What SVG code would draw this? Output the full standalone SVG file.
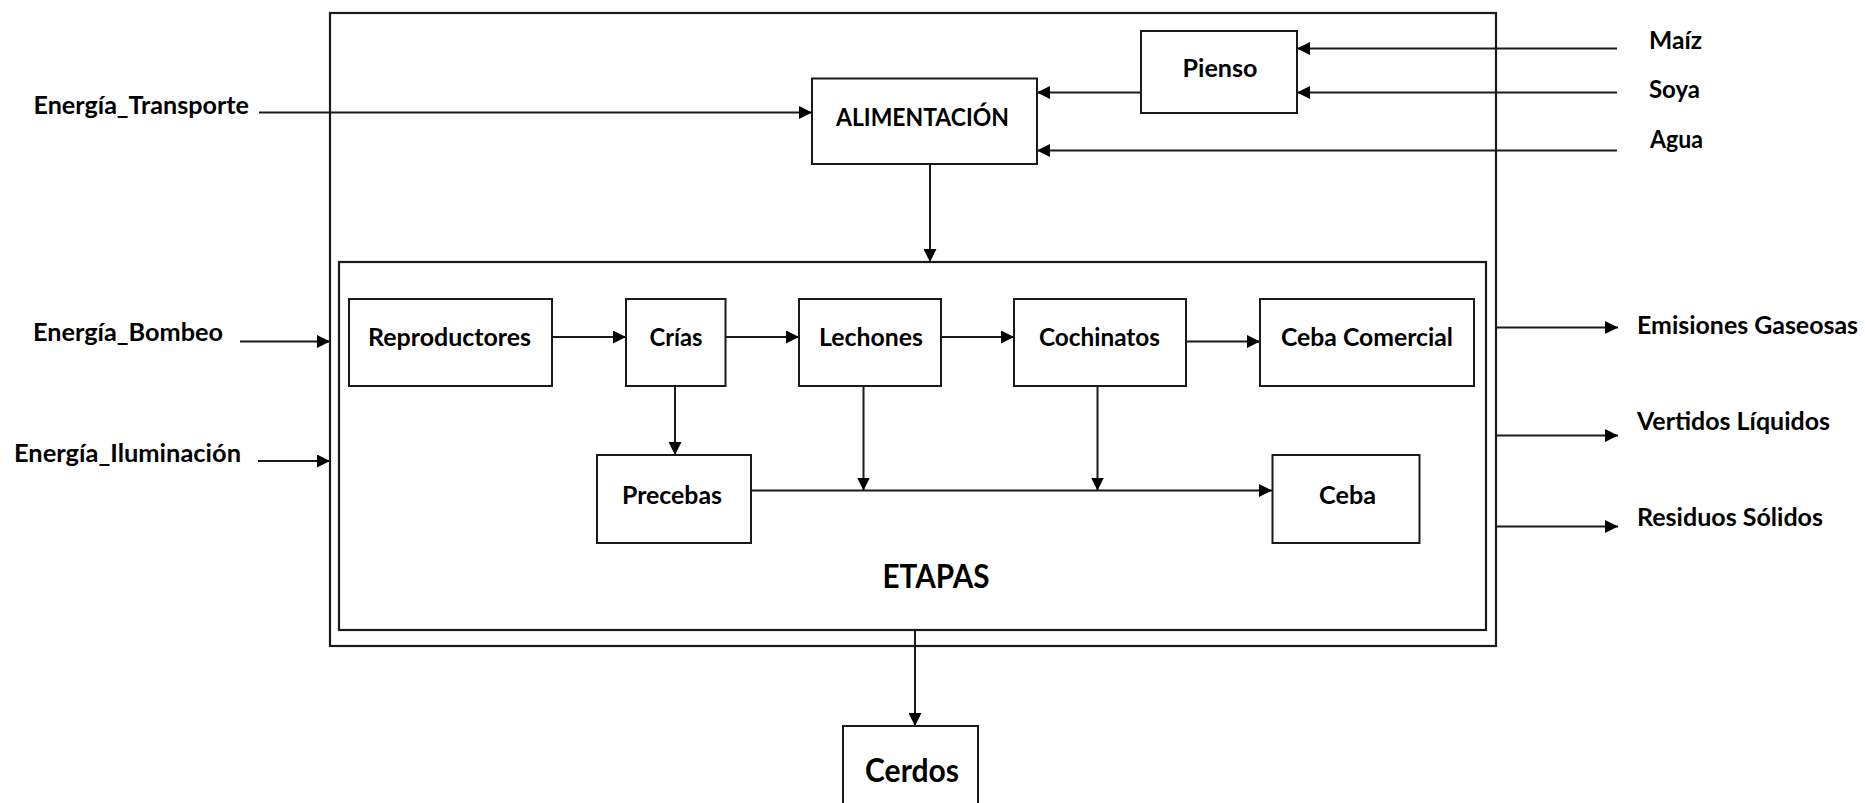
<svg xmlns="http://www.w3.org/2000/svg" width="1865" height="803" viewBox="0 0 1865 803">
  <style>
    .box { fill: #fff; stroke: #1a1a1a; stroke-width: 2; }
    .frame { fill: none; stroke: #1a1a1a; stroke-width: 2.2; }
    .lbl { font-family: Lato, "Liberation Sans", sans-serif; font-weight: bold; font-size: 24px; fill: #000; }
    .big { font-size: 32.5px; }
    .mid { text-anchor: middle; }
    .wire { fill: none; stroke: #1a1a1a; stroke-width: 2; marker-end: url(#arrow); }
  </style>
  <defs>
    <marker id="arrow" viewBox="0 0 13 13" refX="13" refY="6.5" markerWidth="13" markerHeight="13" markerUnits="userSpaceOnUse" orient="auto">
      <path d="M0,0 L13,6.5 L0,13 Z" fill="#000"/>
    </marker>
  </defs>
  <rect width="1865" height="803" fill="#fff"/>

  <!-- system boundary and stages container -->
  <g id="sistema">
    <rect class="frame" x="330" y="13" width="1166" height="633"/>
  </g>
  <g id="etapas">
    <rect class="frame" x="339" y="262" width="1147" height="368"/>
    <text class="lbl big mid" x="936" y="588" textLength="107" lengthAdjust="spacingAndGlyphs">ETAPAS</text>
  </g>

  <!-- connectors -->
  <g id="conectores">
    <line class="wire" x1="259" y1="112.5" x2="812" y2="112.5"/>
    <line class="wire" x1="1141" y1="92.5" x2="1037" y2="92.5"/>
    <line class="wire" x1="1617" y1="150.5" x2="1037" y2="150.5"/>
    <line class="wire" x1="1617" y1="48.5" x2="1297" y2="48.5"/>
    <line class="wire" x1="1617" y1="92.5" x2="1297" y2="92.5"/>
    <line class="wire" x1="930" y1="164" x2="930" y2="262"/>
    <line class="wire" x1="240" y1="341.5" x2="330" y2="341.5"/>
    <line class="wire" x1="258" y1="461" x2="330" y2="461"/>
    <line class="wire" x1="552" y1="337" x2="626" y2="337"/>
    <line class="wire" x1="725" y1="337" x2="799" y2="337"/>
    <line class="wire" x1="941" y1="337" x2="1014" y2="337"/>
    <line class="wire" x1="1186" y1="341.5" x2="1260" y2="341.5"/>
    <line class="wire" x1="675" y1="386" x2="675" y2="455"/>
    <line class="wire" x1="751" y1="490.5" x2="1272" y2="490.5"/>
    <line class="wire" x1="863.5" y1="386" x2="863.5" y2="490.5"/>
    <line class="wire" x1="1097.5" y1="386" x2="1097.5" y2="490.5"/>
    <line class="wire" x1="1496" y1="327.5" x2="1618" y2="327.5"/>
    <line class="wire" x1="1496" y1="435.5" x2="1618" y2="435.5"/>
    <line class="wire" x1="1496" y1="526.5" x2="1618" y2="526.5"/>
    <line class="wire" x1="915" y1="630" x2="915" y2="726"/>
  </g>

  <!-- process boxes -->
  <g id="pienso">
    <rect class="box" x="1141" y="31" width="156" height="82"/>
    <text class="lbl mid" x="1220" y="77" textLength="75" lengthAdjust="spacingAndGlyphs">Pienso</text>
  </g>
  <g id="alimentacion">
    <rect class="box" x="812" y="78.5" width="225" height="85.5"/>
    <text class="lbl mid" x="922.5" y="125.5" textLength="173" lengthAdjust="spacingAndGlyphs">ALIMENTACIÓN</text>
  </g>
  <g id="reproductores">
    <rect class="box" x="349" y="299" width="203" height="87"/>
    <text class="lbl mid" x="449.5" y="346" textLength="163" lengthAdjust="spacingAndGlyphs">Reproductores</text>
  </g>
  <g id="crias">
    <rect class="box" x="626" y="299" width="99.5" height="87"/>
    <text class="lbl mid" x="676" y="346" textLength="53" lengthAdjust="spacingAndGlyphs">Crías</text>
  </g>
  <g id="lechones">
    <rect class="box" x="799" y="299" width="142" height="87"/>
    <text class="lbl mid" x="871" y="346" textLength="104" lengthAdjust="spacingAndGlyphs">Lechones</text>
  </g>
  <g id="cochinatos">
    <rect class="box" x="1014" y="299" width="172" height="87"/>
    <text class="lbl mid" x="1099.5" y="346" textLength="121" lengthAdjust="spacingAndGlyphs">Cochinatos</text>
  </g>
  <g id="ceba-comercial">
    <rect class="box" x="1260" y="299" width="214" height="87"/>
    <text class="lbl mid" x="1367" y="346" textLength="172" lengthAdjust="spacingAndGlyphs">Ceba Comercial</text>
  </g>
  <g id="precebas">
    <rect class="box" x="597" y="455" width="154" height="88"/>
    <text class="lbl mid" x="672" y="504" textLength="100" lengthAdjust="spacingAndGlyphs">Precebas</text>
  </g>
  <g id="ceba">
    <rect class="box" x="1272.5" y="455" width="147" height="88"/>
    <text class="lbl mid" x="1347.5" y="504" textLength="57" lengthAdjust="spacingAndGlyphs">Ceba</text>
  </g>
  <g id="cerdos">
    <rect class="box" x="843" y="726" width="135" height="110"/>
    <text class="lbl big mid" x="912" y="782" textLength="94" lengthAdjust="spacingAndGlyphs">Cerdos</text>
  </g>

  <!-- external inputs -->
  <g id="energia-transporte">
    <text class="lbl" x="33.5" y="113.5" textLength="215.5" lengthAdjust="spacingAndGlyphs">Energía_Transporte</text>
  </g>
  <g id="energia-bombeo">
    <text class="lbl" x="33" y="340.5" textLength="190" lengthAdjust="spacingAndGlyphs">Energía_Bombeo</text>
  </g>
  <g id="energia-iluminacion">
    <text class="lbl" x="14" y="462" textLength="227" lengthAdjust="spacingAndGlyphs">Energía_Iluminación</text>
  </g>
  <g id="maiz">
    <text class="lbl" x="1649" y="49" textLength="53" lengthAdjust="spacingAndGlyphs">Maíz</text>
  </g>
  <g id="soya">
    <text class="lbl" x="1649" y="98" textLength="51" lengthAdjust="spacingAndGlyphs">Soya</text>
  </g>
  <g id="agua">
    <text class="lbl" x="1650" y="148" textLength="53" lengthAdjust="spacingAndGlyphs">Agua</text>
  </g>

  <!-- external outputs -->
  <g id="emisiones">
    <text class="lbl" x="1637" y="334" textLength="221" lengthAdjust="spacingAndGlyphs">Emisiones Gaseosas</text>
  </g>
  <g id="vertidos">
    <text class="lbl" x="1637" y="430" textLength="193" lengthAdjust="spacingAndGlyphs">Vertidos Líquidos</text>
  </g>
  <g id="residuos">
    <text class="lbl" x="1637" y="525.5" textLength="186" lengthAdjust="spacingAndGlyphs">Residuos Sólidos</text>
  </g>
</svg>
